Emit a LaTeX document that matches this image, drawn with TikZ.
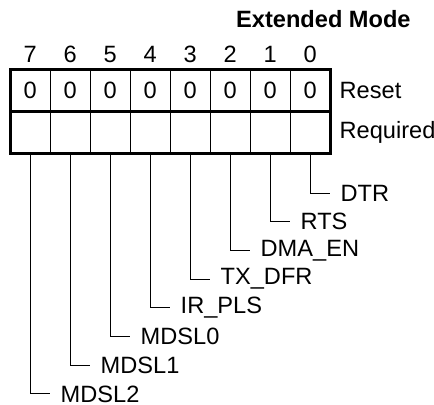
\documentclass[tikz,border=0pt]{standalone}
\usepackage{fontspec}
\setmainfont{Liberation Sans}
\usetikzlibrary{positioning}
\tikzset{
  cell/.style={draw, line width=0.5pt, minimum width=20pt, minimum height=21pt, inner sep=0pt, outer sep=0pt},
  bitno/.style={inner sep=0pt},
  rowname/.style={inner sep=0pt},
  field/.style={anchor=west, inner sep=5pt},
  leader/.style={line width=0.5pt},
  frame/.style={line width=1.5pt}
}
\begin{document}
\begin{tikzpicture}[x=0.5pt, y=-0.5pt, font=\fontsize{11.8}{14}\selectfont]
  \useasboundingbox (0,0) rectangle (434,404);
  %Title
  \node[anchor=east, inner sep=0pt, font=\fontsize{11.8}{14}\selectfont\bfseries] (title) at (411,19) {Extended Mode};
  %Reset row
  \node[cell] (r7) at (30.3,90) {0};
  \node[cell, right=0pt of r7] (r6) {0};
  \node[cell, right=0pt of r6] (r5) {0};
  \node[cell, right=0pt of r5] (r4) {0};
  \node[cell, right=0pt of r4] (r3) {0};
  \node[cell, right=0pt of r3] (r2) {0};
  \node[cell, right=0pt of r2] (r1) {0};
  \node[cell, right=0pt of r1] (r0) {0};
  %Required row
  \node[cell, below=0pt of r7] (q7) {};
  \node[cell, below=0pt of r6] (q6) {};
  \node[cell, below=0pt of r5] (q5) {};
  \node[cell, below=0pt of r4] (q4) {};
  \node[cell, below=0pt of r3] (q3) {};
  \node[cell, below=0pt of r2] (q2) {};
  \node[cell, below=0pt of r1] (q1) {};
  \node[cell, below=0pt of r0] (q0) {};
  %Frame
  \draw[frame] (r7.north west) rectangle (q0.south east);
  \draw[frame] (r7.south west) -- (r0.south east);
  %Bit numbers
  \node[bitno, above=3pt of r7] (b7) {7};
  \node[bitno, above=3pt of r6] (b6) {6};
  \node[bitno, above=3pt of r5] (b5) {5};
  \node[bitno, above=3pt of r4] (b4) {4};
  \node[bitno, above=3pt of r3] (b3) {3};
  \node[bitno, above=3pt of r2] (b2) {2};
  \node[bitno, above=3pt of r1] (b1) {1};
  \node[bitno, above=3pt of r0] (b0) {0};
  %Row names
  \node[rowname, right=4.5pt of r0] (reset) {Reset};
  \node[rowname, right=4.5pt of q0] (required) {Required};
  %Field names
  \node[field] (dtr) at (330.3,193) {DTR};
  \node[field] (rts) at (290.3,221.7) {RTS};
  \node[field] (dmaen) at (250.3,250.4) {DMA\_EN};
  \node[field] (txdfr) at (210.3,279.1) {TX\_DFR};
  \node[field] (irpls) at (170.3,307.8) {IR\_PLS};
  \node[field] (mdsl0) at (130.3,336.5) {MDSL0};
  \node[field] (mdsl1) at (90.3,365.2) {MDSL1};
  \node[field] (mdsl2) at (50.3,393.9) {MDSL2};
  %Leaders
  \draw[leader] (q0.south) |- (dtr.west);
  \draw[leader] (q1.south) |- (rts.west);
  \draw[leader] (q2.south) |- (dmaen.west);
  \draw[leader] (q3.south) |- (txdfr.west);
  \draw[leader] (q4.south) |- (irpls.west);
  \draw[leader] (q5.south) |- (mdsl0.west);
  \draw[leader] (q6.south) |- (mdsl1.west);
  \draw[leader] (q7.south) |- (mdsl2.west);
\end{tikzpicture}
\end{document}
